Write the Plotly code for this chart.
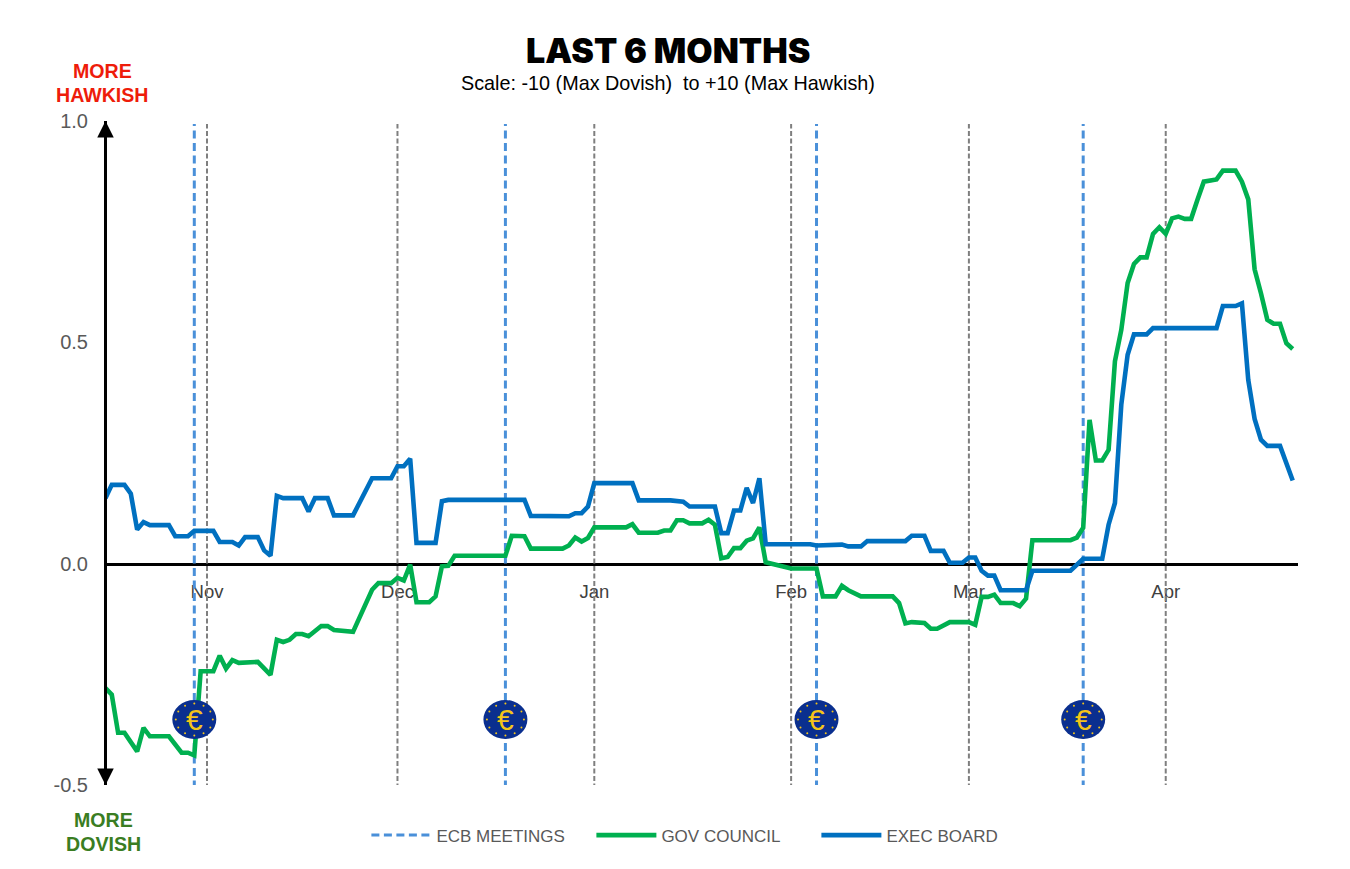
import math
import pandas as pd
import plotly.graph_objects as go

START = pd.Timestamp("2025-10-16")

# Day offsets from START and index readings for each series
gov_days = [0,1,2,3,5,6,7,10,12,13,14,15,17,18,19,20,21,24,26,27,28,29,30,31,32,34,35,36,39,42,43,45,46,47,48,49,51,52,53,54,55,63,64,66,67,72,73,74,75,76,77,82,83,84,87,88,89,90,91,92,94,95,96,97,98,99,100,101,102,103,104,106,107,108,112,113,115,116,117,119,124,125,126,127,129,130,131,132,133,136,137,138,139,140,141,143,144,145,146,152,153,154,155,156,157,158,159,160,161,162,163,164,165,166,167,168,169,170,171,172,173,175,176,178,179,180,181,182,183,184,185,186,187]
gov_vals = [-.281,-.296,-.382,-.382,-.424,-.371,-.390,-.390,-.427,-.427,-.433,-.243,-.243,-.208,-.237,-.218,-.224,-.222,-.251,-.172,-.177,-.172,-.159,-.159,-.164,-.141,-.141,-.150,-.154,-.059,-.044,-.044,-.032,-.038,-.002,-.087,-.087,-.074,-.006,-.005,.018,.018,.063,.062,.034,.034,.041,.059,.050,.058,.082,.082,.089,.070,.070,.075,.075,.098,.098,.091,.091,.099,.088,.012,.015,.035,.035,.052,.057,.082,.003,-.005,-.007,-.011,-.011,-.074,-.074,-.050,-.060,-.074,-.074,-.089,-.135,-.132,-.134,-.147,-.147,-.140,-.132,-.132,-.138,-.075,-.075,-.070,-.089,-.089,-.096,-.079,.053,.053,.059,.081,.325,.233,.233,.257,.457,.528,.634,.677,.692,.692,.745,.760,.745,.780,.784,.779,.779,.822,.863,.868,.888,.888,.863,.823,.665,.611,.551,.542,.542,.498,.485]

exec_days = [0,1,3,4,5,6,7,10,11,13,14,17,18,20,21,22,24,25,26,27,28,31,32,33,35,36,39,40,41,42,45,46,47,48,49,52,53,54,66,67,73,74,75,76,77,83,84,89,91,92,96,97,98,99,100,101,102,103,104,111,112,116,117,119,120,126,127,129,130,132,133,135,136,137,138,139,140,141,145,146,152,153,154,157,158,159,160,161,162,164,165,175,176,178,179,180,181,182,183,185,186,187]
exec_vals = [.148,.178,.178,.158,.077,.094,.087,.087,.062,.062,.074,.074,.049,.049,.041,.060,.060,.030,.018,.153,.148,.148,.118,.148,.148,.109,.109,.137,.161,.193,.193,.220,.220,.237,.047,.047,.141,.144,.144,.108,.107,.114,.114,.129,.182,.182,.143,.143,.140,.129,.129,.069,.069,.120,.120,.171,.137,.193,.044,.044,.041,.043,.039,.039,.051,.051,.063,.063,.029,.029,.002,.002,.014,.014,-.016,-.027,-.027,-.060,-.060,-.016,-.016,-.004,.011,.011,.088,.137,.359,.472,.518,.518,.532,.532,.582,.582,.588,.415,.327,.280,.266,.266,.223,.188]

month_starts = ["2025-11-01", "2025-12-01", "2026-01-01", "2026-02-01", "2026-03-01", "2026-04-01"]
month_labels = ["Nov", "Dec", "Jan", "Feb", "Mar", "Apr"]
ecb_meetings = ["2025-10-30", "2025-12-18", "2026-02-05", "2026-03-19"]
y_ticks = [-0.5, 0.0, 0.5, 1.0]
y_labels = ["-0.5", "0.0", "0.5", "1.0"]
coin_level = -0.352

GREEN = "#00B050"
BLUE = "#0070C0"
ECB = "#4A90D9"
GRAY = "#7F7F7F"
TEXT = "#595959"
GOLD = "#F5C518"
FONT = "Liberation Sans"
PAGE_INSET = 8  # the page body adds this margin around the figure


def to_dates(days):
    return [START + pd.Timedelta(days=int(d)) for d in days]


def vlines(dates):
    xs, ys = [], []
    for d in dates:
        xs += [d, d, None]
        ys += [-0.508, 0.993, None]
    return xs, ys


fig = go.Figure()

mx, my = vlines(month_starts)
fig.add_trace(go.Scatter(x=mx, y=my, mode="lines", showlegend=False, hoverinfo="skip", cliponaxis=False,
                         line=dict(color=GRAY, width=2, dash="5px,2.5px")))
ex, ey = vlines(ecb_meetings)
fig.add_trace(go.Scatter(x=ex, y=ey, mode="lines", name="ECB MEETINGS", cliponaxis=False,
                         line=dict(color=ECB, width=3, dash="8px,4.5px")))
fig.add_trace(go.Scatter(x=to_dates(gov_days), y=gov_vals, mode="lines", name="GOV COUNCIL",
                         line=dict(color=GREEN, width=4.6)))
fig.add_trace(go.Scatter(x=to_dates(exec_days), y=exec_vals, mode="lines", name="EXEC BOARD",
                         line=dict(color=BLUE, width=4.6)))

shapes, annotations = [], []
for m in ecb_meetings:
    shapes.append(dict(type="circle", layer="above", xref="x", yref="y",
                       xsizemode="pixel", ysizemode="pixel", xanchor=m, yanchor=coin_level,
                       x0=-22, x1=22, y0=-19.5, y1=19.5, fillcolor="#0A2F8F", line=dict(width=0)))
    for k in range(12):
        a = 2 * math.pi * k / 12
        cx, cy = 18.5 * math.cos(a), 16 * math.sin(a)
        shapes.append(dict(type="circle", layer="above", xref="x", yref="y",
                           xsizemode="pixel", ysizemode="pixel", xanchor=m, yanchor=coin_level,
                           x0=cx - 1, x1=cx + 1, y0=cy - 1, y1=cy + 1, fillcolor=GOLD, line=dict(width=0)))
    annotations.append(dict(x=m, y=coin_level, xref="x", yref="y", text="€", showarrow=False,
                            font=dict(family=FONT, size=30, color=GOLD)))

# Page-level titles and direction labels
PL, PR, PT, PB = 106.5, 1298, 121, 785
page_text = [
    dict(x=668, y=50, text="LAST 6 MONTHS", font=dict(family="Inter", size=34, weight=900, color="#000000")),
    dict(x=668, y=83, text="Scale: -10 (Max Dovish)  to +10 (Max Hawkish)", font=dict(family=FONT, size=19.8, color="#000000")),
    dict(x=102, y=71, text="<b>MORE</b>", font=dict(family=FONT, size=19.6, color="#EE1C0A")),
    dict(x=102, y=95, text="<b>HAWKISH</b>", font=dict(family=FONT, size=19.6, color="#EE1C0A")),
    dict(x=103, y=820, text="<b>MORE</b>", font=dict(family=FONT, size=19.6, color="#3A7D22")),
    dict(x=103, y=844, text="<b>DOVISH</b>", font=dict(family=FONT, size=19.6, color="#3A7D22")),
]
for a in page_text:
    a.update(xref="paper", yref="paper", showarrow=False, xanchor="center", yanchor="middle",
             x=(a["x"] - PL) / (PR - PL), y=(PB - a["y"]) / (PB - PT))
annotations += page_text

# Arrowheads on the vertical axis
for tip, tail in ((1.0, 24), (0.0, -24)):
    annotations.append(dict(x=0, y=tip, xref="paper", yref="paper", ax=0, ay=tail, axref="pixel", ayref="pixel",
                            xshift=-1.5, showarrow=True, arrowhead=2, arrowsize=1.1, arrowwidth=3,
                            arrowcolor="#000000", text=""))

fig.update_layout(
    width=1350 - PAGE_INSET, height=869 - PAGE_INSET,
    margin=dict(l=PL - PAGE_INSET, r=1350 - PR, t=PT - PAGE_INSET, b=869 - PB, pad=0),
    paper_bgcolor="white", plot_bgcolor="white",
    font=dict(family=FONT, color=TEXT),
    shapes=shapes, annotations=annotations,
    showlegend=True,
    legend=dict(orientation="h", x=(366 - PL) / (PR - PL), xanchor="left", y=-0.049, yanchor="top",
                font=dict(family=FONT, size=17, color=TEXT), itemwidth=60,
                entrywidth=150, entrywidthmode="pixels",
                bgcolor="rgba(0,0,0,0)", traceorder="normal"),
    xaxis=dict(type="date", range=["2025-10-16 06:00", "2026-04-21 20:00"], anchor="free",
               position=(PB - 564) / (PB - PT), tickmode="array", tickvals=month_starts, ticktext=month_labels,
               showgrid=False, zeroline=False, showline=True, linecolor="#000000", linewidth=3, ticks="",
               ticklabelstandoff=10,
               tickfont=dict(family=FONT, size=18.5, color="#404040"), layer="below traces"),
    yaxis=dict(range=[-0.5, 1.0], tickmode="array", tickvals=y_ticks, ticktext=y_labels,
               showgrid=False, zeroline=False, showline=True, linecolor="#000000", linewidth=3, ticks="",
               ticklabelstandoff=12,
               tickfont=dict(family=FONT, size=20, color=TEXT), layer="below traces"),
)

fig.write_html("out.html")
